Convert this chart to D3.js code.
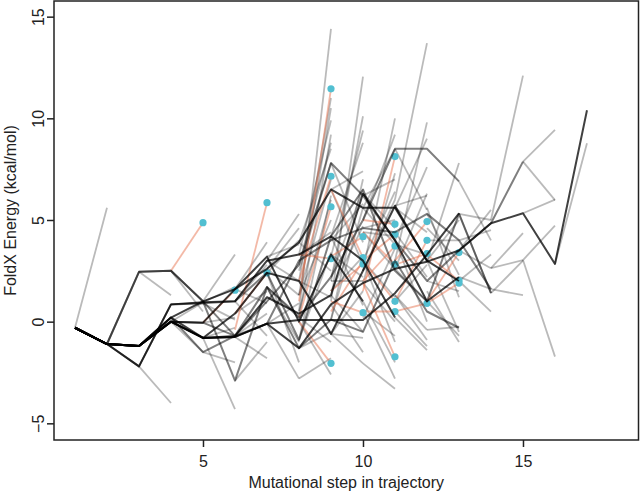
<!DOCTYPE html>
<html>
<head>
<meta charset="utf-8">
<script src="https://cdn.jsdelivr.net/npm/d3@7"></script>
<style>
  html, body { margin: 0; padding: 0; background: #fff; }
  svg text { font-family: "Liberation Sans", Arial, Helvetica, sans-serif; fill: #222; }
</style>
</head>
<body>
<svg id="chart" width="641" height="493"></svg>
<script>
// ---------------- DATA ----------------
const xTicks = [5, 10, 15];
const yTicks = [-5, 0, 5, 10, 15];
const xLabel = "Mutational step in trajectory";
const yLabel = "FoldX Energy (kcal/mol)";

// Main trajectories, values at steps 1, 2, 3, ...
const blackTrajectories = [
  [-0.3,-1.1,-1.2,0.0,-0.8,-0.75,-0.1,-1.3,0.85,1.9,2.6,2.95,3.5,4.84,5.33,2.84,10.4],
  [-0.3,-1.1,-1.2,0.0,-0.05,1.6,2.6,3.9,6.5,5.6,5.6,3.0,2.0],
  [-0.3,-1.1,-2.2,0.85,0.95,1.0,3.0,3.3,4.2,3.0,0.2],
  [-0.3,-1.1,-1.2,0.2,-0.8,-0.7,1.2,0.4,1.3,6.3,4.0,1.0,2.2],
  [-0.3,-1.1,-1.2,0.0,-0.8,0.4,2.4,2.0,-0.6,2.5,5.7,3.0],
  [-0.3,-1.1,-1.2,0.2,1.0,1.6,3.2,0.0,3.3,1.0],
  [-0.3,-1.1,-1.2,0.0,-0.8,-0.75,-0.1,0.08,0.08,0.08,1.4,3.3,5.33]
];
const greyTrajectories = [
  [-0.3,-1.1,2.45,2.5,1.0,-2.9,1.7,0.2,2.2,5.0,8.5,8.5,6.9],
  [-0.3,-1.1,-1.2,0.0,-0.05,-0.7,-0.1,3.0,4.0,4.6,4.4,5.3,4.0,1.6],
  [-0.3,-1.1,2.45,2.5,1.0,-0.7,1.0,2.8,7.8,6.2,4.0,2.0,3.5,4.84,7.87],
  [-0.3,-1.1,-1.2,0.2,-1.5,-0.7,1.7,-1.3,0.1,-0.5,3.0,0.5,-0.3],
  [-0.3,-1.1,-2.2,0.85,0.9,1.0,2.4,-0.9,4.2,6.5,2.5,1.0,5.3,1.4]
];

// Single-step branches: [fromStep, fromValue, toValue]
const branches = [
  [1,-0.3,5.6],
  [3,-2.2,-4.0],[3,2.45,1.3],
  [4,0.0,-1.5],[4,0.85,0.9],[4,2.5,0.5],[4,0.0,0.95],
  [5,1.0,3.3],[5,-0.8,-4.3],[5,-0.05,0.2],[5,0.9,0.1],[5,-1.5,-2.0],[5,-0.8,-0.3],[5,0.95,1.7],
  [6,-2.9,-1.0],[6,-0.75,-1.8],[6,1.6,3.9],[6,0.4,1.5],[6,-0.7,0.4],[6,1.0,-0.7],[6,1.6,0.9],[6,1.0,2.8],
  [7,-0.1,-2.8],[7,2.6,4.6],[7,3.0,2.0],[7,1.7,-1.0],[7,2.4,4.0],[7,3.2,3.8],[7,-0.1,0.9],[7,1.7,0.3],[7,2.6,1.3],[7,3.0,5.3],[7,2.4,-2.0],
  [8,0.5,14.4],[8,1.3,10.5],[8,2.0,11.0],[8,3.3,9.9],[8,0.2,9.2],[8,3.9,8.5],[8,2.5,7.8],[8,-0.9,6.2],[8,1.3,5.0],[8,3.3,4.4],
  [8,-1.3,-0.5],[8,-2.8,-1.8],[8,0.2,-1.0],[8,2.0,1.2],[8,0.0,-2.6],[8,3.9,2.5],[8,2.8,8.8],[8,-0.9,3.4],[8,1.3,7.0],[8,0.5,6.0],
  [9,1.0,12.05],[9,2.0,10.1],[9,4.2,8.8],[9,6.5,7.4],[9,3.2,9.4],[9,0.1,5.6],[9,1.5,4.7],[9,-0.6,-0.8],[9,0.85,-1.5],[9,7.8,3.9],
  [9,6.5,2.8],[9,2.2,6.5],[9,4.2,0.8],[9,3.3,2.2],[9,1.3,-0.5],[9,-0.6,1.5],[9,2.0,2.0],[9,4.0,5.8],[9,0.1,7.0],[9,1.5,3.2],[9,-0.6,-2.05],
  [10,2.5,10.0],[10,5.6,8.5],[10,1.9,7.3],[10,3.0,6.4],[10,5.0,9.2],[10,6.3,4.6],[10,4.4,2.6],[10,0.5,-0.7],[10,1.0,-2.0],[10,3.0,1.2],
  [10,4.6,5.0],[10,0.2,3.6],[10,6.2,7.0],[10,1.9,0.0],[10,5.6,3.8],[10,3.0,-1.0],[10,2.5,6.0],[10,4.4,4.2],[10,-2.05,-3.3],[10,0.5,-2.8],
  [11,6.0,13.7],[11,3.0,9.8],[11,5.6,9.0],[11,4.0,7.6],[11,2.6,6.3],[11,8.5,5.5],[11,5.6,4.4],[11,1.3,-0.9],[11,0.2,-1.4],[11,2.6,1.0],
  [11,4.4,2.2],[11,4.0,0.0],[11,5.7,6.2],[11,1.0,2.8],[11,3.8,3.3],[11,1.3,-0.4],[11,0.5,-1.2],
  [12,2.95,7.8],[12,4.6,3.0],[12,3.0,-0.5],[12,2.0,1.5],[12,5.3,2.3],[12,1.0,-0.7],[12,4.0,4.0],[12,5.6,1.2],[12,3.0,5.0],[12,1.5,-1.0],[12,-0.4,-0.25],
  [13,3.5,5.5],[13,5.33,1.4],[13,2.0,0.49],[13,6.9,4.0],[13,3.5,2.63],[13,2.2,1.6],[13,5.3,5.0],[13,4.0,4.5],[13,2.0,3.3],
  [14,5.0,12.1],[14,2.63,3.03],[14,2.63,4.35],[14,1.6,1.3],[14,1.4,3.0],
  [15,7.87,9.43],[15,7.87,5.98],[15,3.03,-1.72],[15,3.03,4.72],[15,5.33,6.0],
  [16,2.84,8.77]
];

// Orange paths ending in a cyan point: [startStep, v0, v1, ...]
const orangePaths = [
  [4,2.5,4.87],
  [6,-0.4,5.85],
  [5,-0.05,1.55],
  [6,0.4,2.4],
  [8,1.0,11.45],
  [8,2.0,7.15],
  [8,0.2,5.65],
  [8,3.3,3.1],
  [8,0.0,-2.05],
  [9,3.2,4.18],
  [9,6.5,3.15],
  [9,1.5,2.84],
  [9,1.0,0.44],
  [10,1.5,8.12],
  [10,5.0,4.8],
  [10,3.0,4.3],
  [10,2.0,3.72],
  [10,4.4,2.82],
  [9,0.5,3.0,1.0],
  [10,0.5,0.5],
  [10,1.9,-1.73],
  [11,3.0,4.92],
  [11,1.0,4.0],
  [11,2.8,3.35],
  [11,0.5,0.9],
  [12,1.0,3.4],
  [12,3.3,2.02],
  [12,0.9,1.9]
];

// ---------------- CHART ----------------
const svg = d3.select("#chart");
const L = 54, R = 638.5, T = 1, B = 440;

const x = d3.scaleLinear().domain([0.344, 18.61]).range([L, R]);
const y = d3.scaleLinear().domain([-5.82, 15.77]).range([B, T]);

const line = d3.line().x(d => x(d[0])).y(d => y(d[1]));
const toPts = (vals, start) => vals.map((v, i) => [start + i, v]);

const g = svg.append("g");

// light branches
g.selectAll("path.branch").data(branches).join("path")
  .attr("class", "branch")
  .attr("d", d => line([[d[0], d[1]], [d[0] + 1, d[2]]]))
  .attr("fill", "none").attr("stroke", "#000")
  .attr("stroke-opacity", 0.27).attr("stroke-width", 1.8);

// orange paths
g.selectAll("path.orange").data(orangePaths).join("path")
  .attr("class", "orange")
  .attr("d", d => line(toPts(d.slice(1), d[0])))
  .attr("fill", "none").attr("stroke", "#e8734f")
  .attr("stroke-opacity", 0.5).attr("stroke-width", 1.8);

// cyan end points
g.selectAll("circle.end").data(orangePaths).join("circle")
  .attr("class", "end")
  .attr("cx", d => x(d[0] + d.length - 2))
  .attr("cy", d => y(d[d.length - 1]))
  .attr("r", 3.6)
  .attr("fill", "#52bfd1");

// grey trajectories
g.selectAll("path.greyT").data(greyTrajectories).join("path")
  .attr("class", "greyT")
  .attr("d", d => line(toPts(d, 1)))
  .attr("fill", "none").attr("stroke", "#000")
  .attr("stroke-opacity", 0.5).attr("stroke-width", 2)
  .attr("stroke-linejoin", "round");

// black trajectories
g.selectAll("path.blackT").data(blackTrajectories).join("path")
  .attr("class", "blackT")
  .attr("d", d => line(toPts(d, 1)))
  .attr("fill", "none").attr("stroke", "#000")
  .attr("stroke-opacity", 0.75).attr("stroke-width", 2)
  .attr("stroke-linejoin", "round");

// box
svg.append("rect")
  .attr("x", L).attr("y", T).attr("width", R - L).attr("height", B - T)
  .attr("fill", "none").attr("stroke", "#222").attr("stroke-width", 1.5);

// x axis
const xAxis = svg.append("g").attr("transform", `translate(0,${B})`)
  .call(d3.axisBottom(x).tickValues(xTicks).tickSize(7).tickFormat(d3.format("d")));
xAxis.select(".domain").remove();
xAxis.selectAll("line").attr("stroke", "#222").attr("stroke-width", 1.5);
xAxis.selectAll("text").attr("y", 27).attr("dy", 0)
  .style("font-size", "16px").style("font-family", "'Liberation Sans', Arial, sans-serif").attr("fill", "#222");

// y axis
const yAxis = svg.append("g").attr("transform", `translate(${L},0)`)
  .call(d3.axisLeft(y).tickValues(yTicks).tickSize(7).tickFormat(d3.format("d")));
yAxis.select(".domain").remove();
yAxis.selectAll("line").attr("stroke", "#222").attr("stroke-width", 1.5);
yAxis.selectAll("text")
  .attr("transform", "rotate(-90)")
  .attr("x", 0).attr("y", -10.5).attr("dy", 0)
  .attr("text-anchor", "middle")
  .style("font-size", "16px").style("font-family", "'Liberation Sans', Arial, sans-serif").attr("fill", "#222");

// axis titles
svg.append("text")
  .attr("x", (L + R) / 2).attr("y", 488)
  .attr("text-anchor", "middle")
  .style("font-size", "16px")
  .text(xLabel);

svg.append("text")
  .attr("transform", `translate(15.5,${(B + T) / 2 - 10}) rotate(-90)`)
  .attr("text-anchor", "middle")
  .style("font-size", "16px")
  .text(yLabel);
</script>
</body>
</html>
